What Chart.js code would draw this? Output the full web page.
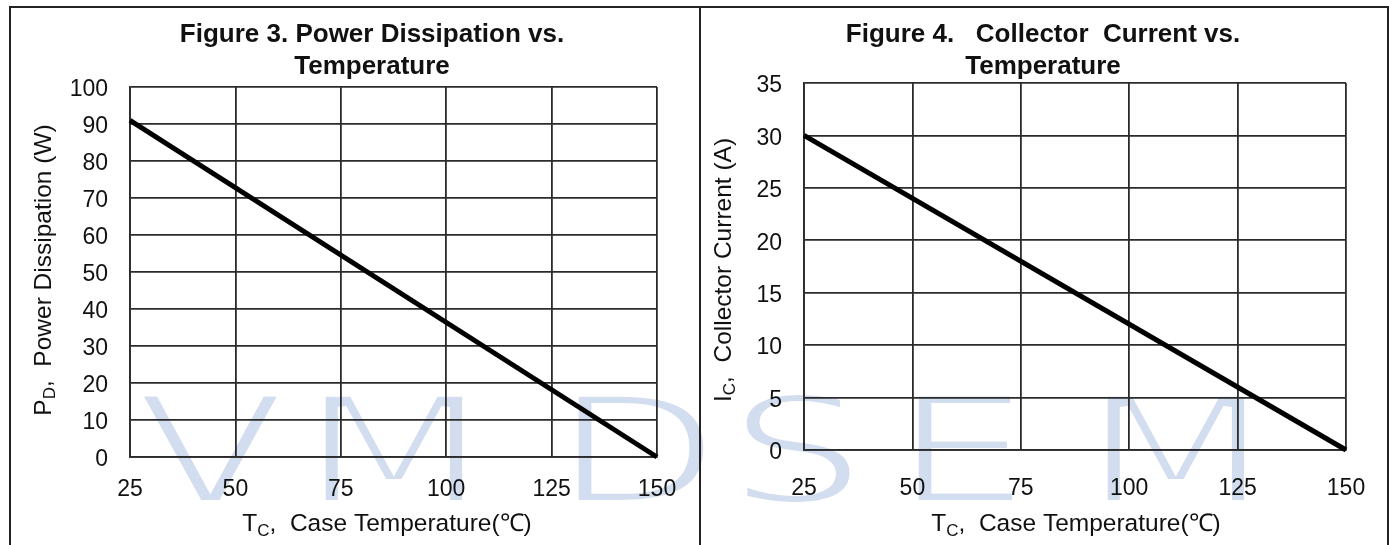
<!DOCTYPE html>
<html>
<head>
<meta charset="utf-8">
<script src="https://cdn.jsdelivr.net/npm/chart.js@4.4.0/dist/chart.umd.min.js"></script>
<style>
  html, body { margin: 0; padding: 0; background: #fff; }
  #wrap { position: relative; width: 1389px; height: 545px; overflow: hidden; }
  canvas { position: absolute; top: 0; }
  #frame { position: absolute; left: 9px; top: 6px; width: 1380px; height: 600px;
           border: 2px solid #222; box-sizing: border-box; }
  #sep { position: absolute; left: 699px; top: 6px; width: 2px; height: 545px; background: #222; }
  .wm { position: absolute; top: 376px; font: 150px "DejaVu Sans", sans-serif; color: #d3ddf0;
        -webkit-text-stroke: 6px #fff; line-height: 1;
        transform: scaleX(1.45); transform-origin: 0 0; }
</style>
</head>
<body>
<div id="wrap">
  <span class="wm" style="left:136px">V</span>
  <span class="wm" style="left:300px">M</span>
  <span class="wm" style="left:553px">D</span>
  <span class="wm" style="left:728px">S</span>
  <span class="wm" style="left:893px">E</span>
  <span class="wm" style="left:1082px">M</span>
  <canvas id="fig3" width="700" height="545" style="left:0"></canvas>
  <canvas id="fig4" width="689" height="545" style="left:700px"></canvas>
  <div id="frame"></div>
  <div id="sep"></div>
</div>
<script>
// data
const tempC = [25, 150];
const powerW = [91, 0];
const currentA = [30, 0];
const tempTicks = [25, 50, 75, 100, 125, 150];
const powerTicks = [0, 10, 20, 30, 40, 50, 60, 70, 80, 90, 100];
const currentTicks = [0, 5, 10, 15, 20, 25, 30, 35];

const FONT = '"Liberation Sans", Arial, Helvetica, sans-serif';
const INK = '#111';
const GRID = '#2b2b2b';

function drawRich(ctx, parts, cx, base, size) {
  const fonts = parts.map(p => (p.sub ? Math.round(size * 0.7) : size) + 'px ' + FONT);
  let w = 0;
  parts.forEach((p, i) => { ctx.font = fonts[i]; w += ctx.measureText(p.t).width; });
  let x = cx - w / 2;
  parts.forEach((p, i) => {
    ctx.font = fonts[i];
    ctx.fillText(p.t, x, base + (p.sub ? size * 0.2 : 0));
    x += ctx.measureText(p.t).width;
  });
}

// titles and axis titles (with subscripts) drawn on top of the chart
function labelsPlugin(t) {
  return {
    id: 'figLabels',
    afterDraw(chart) {
      const ctx = chart.ctx;
      ctx.save();
      ctx.fillStyle = INK;
      ctx.textBaseline = 'alphabetic';
      ctx.textAlign = 'center';
      ctx.font = 'bold 26px ' + FONT;
      t.title.forEach((line, i) => ctx.fillText(line, t.titleX, 42 + i * 32));
      ctx.textAlign = 'left';
      drawRich(ctx, t.xTitle, t.xTitleX, 531, 24.5);
      ctx.translate(t.yTitleX, 270);
      ctx.rotate(-Math.PI / 2);
      drawRich(ctx, t.yTitle, 0, 8.5, 24.5);
      ctx.restore();
    }
  };
}

function makeChart(id, ys, yTicks, yMax, pad, xPad, labels) {
  return new Chart(document.getElementById(id), {
    type: 'scatter',
    data: {
      datasets: [{
        data: tempC.map((t, i) => ({ x: t, y: ys[i] })),
        showLine: true,
        borderColor: '#000',
        borderWidth: 5,
        pointRadius: 0,
        clip: false
      }]
    },
    options: {
      responsive: false,
      animation: false,
      events: [],
      layout: { padding: pad },
      plugins: {
        legend: { display: false },
        tooltip: { enabled: false },
        title: { display: false }
      },
      scales: {
        x: {
          type: 'linear',
          min: tempTicks[0],
          max: tempTicks[tempTicks.length - 1],
          afterBuildTicks: s => { s.ticks = tempTicks.map(v => ({ value: v })); },
          afterFit: s => { s.height = 50; s.paddingLeft = 0; s.paddingRight = 0; },
          grid: { color: GRID, lineWidth: 1.8, drawTicks: false },
          border: { color: GRID, width: 1.8 },
          ticks: { padding: xPad, color: INK, font: { family: FONT, size: 23 }, maxRotation: 0, autoSkip: false }
        },
        y: {
          type: 'linear',
          min: 0,
          max: yMax,
          afterBuildTicks: s => { s.ticks = yTicks.map(v => ({ value: v })); },
          afterFit: s => { s.width = 70; s.paddingTop = 0; s.paddingBottom = 0; },
          grid: { color: GRID, lineWidth: 1.8, drawTicks: false },
          border: { color: GRID, width: 1.8 },
          ticks: { padding: 22, labelOffset: 3, color: INK, font: { family: FONT, size: 23 }, autoSkip: false }
        }
      }
    },
    plugins: [labelsPlugin(labels)]
  });
}

makeChart('fig3', powerW, powerTicks, 100,
  { left: 60, right: 43, top: 87, bottom: 38 }, 19,
  {
    title: ['Figure 3. Power Dissipation vs.', 'Temperature'],
    titleX: 372,
    xTitle: [{ t: 'T' }, { t: 'C', sub: true }, { t: ',  Case Temperature(\u2103)' }],
    xTitleX: 387,
    yTitle: [{ t: 'P' }, { t: 'D', sub: true }, { t: ',  Power Dissipation (W)' }],
    yTitleX: 42
  });

makeChart('fig4', currentA, currentTicks, 35,
  { left: 34, right: 43, top: 83, bottom: 45 }, 25,
  {
    title: ['Figure 4.   Collector  Current vs.', 'Temperature'],
    titleX: 343,
    xTitle: [{ t: 'T' }, { t: 'C', sub: true }, { t: ',  Case Temperature(\u2103)' }],
    xTitleX: 376,
    yTitle: [{ t: 'I' }, { t: 'C', sub: true }, { t: ',  Collector Current (A)' }],
    yTitleX: 22
  });
</script>
</body>
</html>
